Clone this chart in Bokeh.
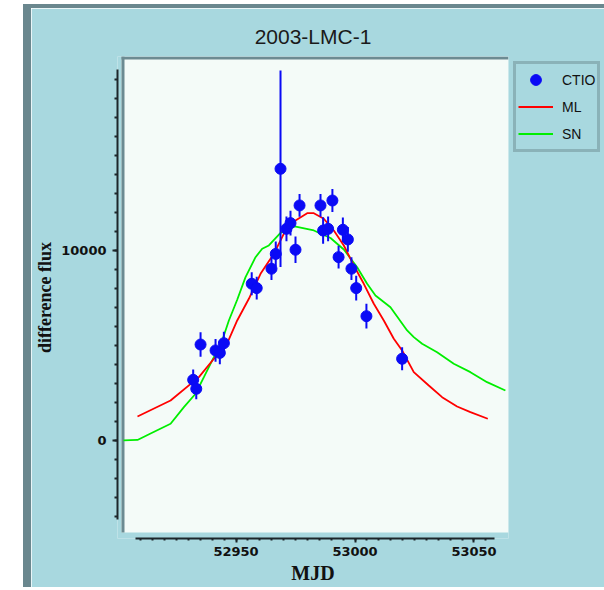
from bokeh.plotting import figure
from bokeh.models import (Range1d, SingleIntervalTicker, Legend, LegendItem,
                          BoxAnnotation, ColumnDataSource)
from bokeh.embed import file_html
from bokeh.resources import INLINE

# ---------------- data ----------------
ctio_mjd = [52932.0, 52933.3, 52935.1, 52941.4, 52943.2, 52944.9, 52956.6, 52958.7,
            52964.9, 52966.7, 52968.7, 52971.2, 52972.9, 52975.0, 52976.7, 52985.5,
            52986.6, 52988.7, 52990.5, 52993.1, 52994.9, 52997.0, 52998.5, 53000.5,
            53004.8, 53019.8]
ctio_flux = [3190, 2720, 5050, 4740, 4610, 5120, 8250, 8020,
             9040, 9820, 14300, 11140, 11440, 10040, 12370, 12370,
             11050, 11140, 12630, 9650, 11090, 10580, 9040, 8020,
             6540, 4300]
ctio_err = [550, 550, 650, 600, 600, 600, 600, 600,
            600, 650, 5170, 650, 650, 700, 600, 600,
            700, 650, 600, 600, 650, 650, 600, 650,
            650, 600]

ml_mjd = [52908.6, 52922.5, 52934.4, 52940.7, 52945.6, 52950.5, 52955.4, 52960.3,
          52965.9, 52970.8, 52975.0, 52979.9, 52982.7, 52986.9, 52991.1, 52995.3,
          52999.5, 53003.7, 53007.9, 53012.1, 53016.3, 53019.8, 53024.7, 53031.0,
          53036.6, 53042.9, 53048.5, 53055.8]
ml_flux = [1263, 2105, 3332, 4300, 4911, 6316, 7458, 8774,
           9826, 11053, 11579, 11963, 11963, 11668, 11053, 10263,
           9211, 8247, 7195, 6316, 5353, 4737, 3595, 2895,
           2279, 1789, 1489, 1142]

sn_mjd = [52902.7, 52908.6, 52914.1, 52922.5, 52928.1, 52933.0, 52936.5, 52940.7,
          52944.2, 52947.0, 52950.5, 52954.0, 52958.2, 52961.0, 52963.8, 52968.7,
          52974.6, 52982.7, 52989.7, 52995.3, 53000.9, 53005.1, 53008.6, 53014.9,
          53021.9, 53024.7, 53028.2, 53034.5, 53041.5, 53048.5, 53055.5, 53063.2]
sn_flux = [0, 26, 370, 879, 1753, 2458, 3332, 4384,
           5263, 6316, 7405, 8595, 9647, 10089, 10263, 10921,
           11263, 11053, 10658, 10053, 9121, 8247, 7632, 7016,
           5789, 5437, 5089, 4647, 4037, 3595, 3068, 2632]

title_text = "2003-LMC-1"
x_label = "MJD"
y_label = "difference flux"

# ---------------- styling ----------------
BG = "#a8d8df"
PLOTBG = "#f4fbf8"
BORDER = "#6c8b92"
BLUE = "#0a0af5"
RED = "#ff0000"
GREEN = "#00ee00"
AXIS = "#1c262b"

X0, X1 = 52900.2, 53064.5
Y0, Y1 = -5160, 20210
FW, FH = 391, 482          # frame size in px
DX = (X1 - X0) / FW        # data units per px
DY = (Y1 - Y0) / FH

p = figure(frame_width=FW, frame_height=FH, x_range=Range1d(X0, X1), y_range=Range1d(Y0, Y1),
           output_backend="svg", toolbar_location=None,
           min_border_left=86, min_border_right=96, min_border_top=48, min_border_bottom=49)
p.margin = (4, 0, 3, 23)
p.styles = {"border-left": "8px solid #6a878e", "border-top": "4px solid #6a878e"}
p.border_fill_color = BG
p.background_fill_color = BG
p.outline_line_color = None
p.xgrid.visible = False
p.ygrid.visible = False

# white plotting area with inset border (top / left)
p.add_layout(BoxAnnotation(left=X0 + 4 * DX, right=X1, top=Y1, bottom=Y0 + 6 * DY,
                           fill_color=PLOTBG, fill_alpha=1, line_color=None, level="underlay"))
p.add_layout(BoxAnnotation(left=X0 + 4 * DX, right=X0 + 7 * DX, top=Y1, bottom=Y0 + 6 * DY,
                           fill_color=BORDER, fill_alpha=1, line_color=None, level="underlay"))
p.add_layout(BoxAnnotation(left=X0 + 4 * DX, right=X1, top=Y1, bottom=Y1 - 3 * DY,
                           fill_color=BORDER, fill_alpha=1, line_color=None, level="underlay"))

# ---------------- glyphs ----------------
src = ColumnDataSource(dict(
    x=ctio_mjd, y=ctio_flux,
    lo=[f - e for f, e in zip(ctio_flux, ctio_err)],
    hi=[f + e for f, e in zip(ctio_flux, ctio_err)],
))

sn = p.line(sn_mjd, sn_flux, line_color=GREEN, line_width=1.8)
ml = p.line(ml_mjd, ml_flux, line_color=RED, line_width=1.8)
p.segment(x0="x", y0="lo", x1="x", y1="hi", source=src, line_color=BLUE, line_width=2)
p.scatter("x", "y", source=src, marker="circle", size=11, fill_color=BLUE, line_color=BLUE)
leg_dot = p.scatter([float("nan")], [float("nan")], marker="circle", size=17,
                    fill_color=BLUE, line_color=BLUE)

# ---------------- axes ----------------
p.xaxis.ticker = SingleIntervalTicker(interval=50, num_minor_ticks=10)
p.yaxis.ticker = SingleIntervalTicker(interval=10000, num_minor_ticks=10)
p.xaxis.bounds = (52907.8, 53058.6)
p.yaxis.bounds = (-4160, 19530)

for ax in (p.xaxis[0], p.yaxis[0]):
    ax.axis_line_color = AXIS
    ax.axis_line_width = 2
    ax.major_tick_line_color = AXIS
    ax.minor_tick_line_color = AXIS
    ax.major_tick_line_width = 2
    ax.minor_tick_line_width = 2
    ax.major_tick_in = 0
    ax.minor_tick_in = 0
    ax.major_label_text_font = "DejaVu Sans"
    ax.major_label_text_font_style = "bold"
    ax.major_label_text_font_size = "13px"
    ax.major_label_text_color = "#111111"
    ax.axis_label_text_font = "Liberation Serif"
    ax.axis_label_text_font_style = "bold"
    ax.axis_label_text_color = "#111111"

p.xaxis.major_tick_out = 4
p.xaxis.minor_tick_out = 2
p.xaxis.major_label_standoff = 4
p.xaxis.axis_label = x_label
p.xaxis.axis_label_text_font_size = "20px"
p.xaxis.axis_label_standoff = 3

p.yaxis.major_tick_out = 5
p.yaxis.minor_tick_out = 3
p.yaxis.major_label_standoff = 6
p.yaxis.axis_label = y_label
p.yaxis.axis_label_text_font_size = "18px"
p.yaxis.axis_label_standoff = 3

# ---------------- title ----------------
p.title.text = title_text
p.title.align = "center"
p.title.text_font = "Liberation Sans"
p.title.text_font_style = "normal"
p.title.text_font_size = "21px"
p.title.text_color = "#1a1a1a"
p.title.standoff = 17

# ---------------- legend ----------------
legend = Legend(items=[LegendItem(label="CTIO", renderers=[leg_dot]),
                       LegendItem(label="ML", renderers=[ml]),
                       LegendItem(label="SN", renderers=[sn])],
                location="top_left", margin=5, padding=2, spacing=0,
                glyph_width=35, glyph_height=27, label_height=27, label_standoff=9,
                label_text_font="Liberation Sans", label_text_font_size="14px",
                label_text_color="#111111",
                background_fill_color=BG, background_fill_alpha=1,
                border_line_color=BORDER, border_line_width=3)
p.add_layout(legend, "right")

open("out.html", "w").write(file_html(p, INLINE))
